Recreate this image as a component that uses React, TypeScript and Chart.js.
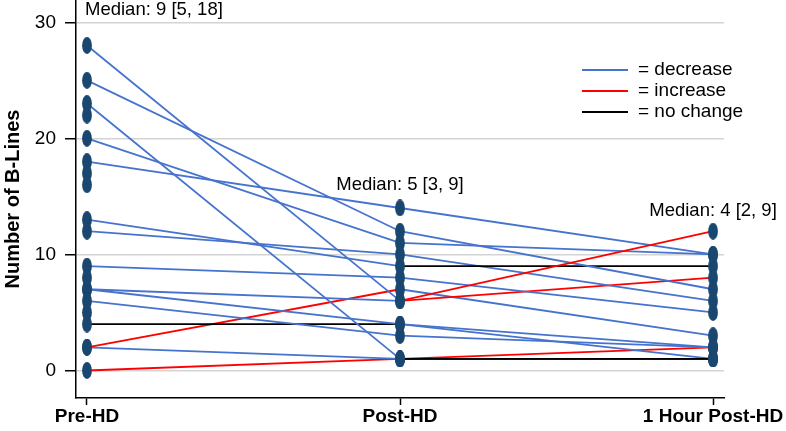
import React, { useEffect, useRef } from 'react';
import { Chart, registerables } from 'chart.js';

Chart.register(...registerables);

// ---- data ----
const categories = ['Pre-HD', 'Post-HD', '1 Hour Post-HD'];
// one entry per patient (same index across the three arrays)
const preHD = [28, 25, 23, 20, 18, 13, 12, 9, 7, 7, 6, 4, 2, 2, 0];
const postHD = [6, 12, 1, 11, 14, 9, 10, 8, 6, 4, 3, 4, 7, 1, 1];
const hourPostHD = [12, 7, 1, 10, 10, 9, 6, 5, 8, 2, 2, 1, 3, 1, 2];
// Pre-HD observations without follow-up values
const preOnly = [22, 17, 16, 8, 5];
const medianLabels = ['Median: 9 [5, 18]', 'Median: 5 [3, 9]', 'Median: 4 [2, 9]'];
const medianLabelValues = [31.1, 15.95, 13.75];
const yTicks = [0, 10, 20, 30];
const legendLabels = ['= decrease', '= increase', '= no change'];

// ---- styles ----
const FONT = "'Liberation Sans', Arial, Helvetica, sans-serif";
const BLUE = '#4673cd';
const RED = '#ff0000';
const BLACK = '#000000';
const NAVY = '#1a476f';
const legendColors = [BLUE, RED, BLACK];

const overlayPlugin = {
  id: 'overlay',
  afterDraw(chart: any) {
    const { ctx, chartArea: area, scales } = chart;
    ctx.save();
    // median labels
    ctx.font = `18.5px ${FONT}`;
    ctx.fillStyle = '#000';
    ctx.textBaseline = 'middle';
    ctx.textAlign = 'left';
    medianLabels.forEach((txt, i) => {
      const x = scales.x.getPixelForValue(i);
      const y = scales.y.getPixelForValue(medianLabelValues[i]);
      const w = ctx.measureText(txt).width;
      let left = x - w / 2;
      if (left < area.left + 9) left = area.left + 9;
      ctx.fillText(txt, left, y);
    });
    // legend
    const lx = area.right - 142;
    ctx.font = `19px ${FONT}`;
    legendLabels.forEach((txt, i) => {
      const y = area.top + 70 + i * 21;
      ctx.strokeStyle = legendColors[i];
      ctx.lineWidth = 1.8;
      ctx.beginPath();
      ctx.moveTo(lx, y);
      ctx.lineTo(lx + 46, y);
      ctx.stroke();
      ctx.fillStyle = '#000';
      ctx.fillText(txt, lx + 56, y);
    });
    ctx.restore();
  },
};

export default function App() {
  const ref = useRef<HTMLCanvasElement | null>(null);

  useEffect(() => {
    if (!ref.current) return;
    const dot = document.createElement('canvas');
    dot.width = 10;
    dot.height = 17;
    const dc = dot.getContext('2d')!;
    dc.fillStyle = NAVY;
    dc.beginPath();
    dc.ellipse(5, 8.5, 4.9, 8.4, 0, 0, Math.PI * 2);
    dc.fill();

    const columns = [preHD, postHD, hourPostHD];
    const lineSets = preHD.map((_, p) => ({
      type: 'line' as const,
      data: columns
        .map((col, i) => ({ x: i, y: col[p] }))
        .filter((pt) => pt.y !== null && pt.y !== undefined),
      showLine: true,
      borderWidth: 1.8,
      pointRadius: 0,
      fill: false,
      tension: 0,
      order: 1,
      borderColor: BLUE,
      segment: {
        borderColor: (c: any) =>
          c.p1.parsed.y > c.p0.parsed.y ? RED : c.p1.parsed.y < c.p0.parsed.y ? BLUE : BLACK,
      },
    }));

    const dots: { x: number; y: number }[] = [];
    columns.forEach((col, i) => col.forEach((v) => dots.push({ x: i, y: v })));
    preOnly.forEach((v) => dots.push({ x: 0, y: v }));

    const chart = new Chart(ref.current, {
      type: 'scatter',
      data: {
        datasets: [
          {
            type: 'scatter',
            data: dots,
            pointStyle: dot as any,
            pointRadius: 5,
            showLine: false,
            order: 0,
          } as any,
          ...(lineSets as any[]),
        ],
      },
      options: {
        animation: false,
        responsive: false,
        events: [],
        layout: { autoPadding: false, padding: { top: 0, right: 62, bottom: 0, left: 0 } },
        plugins: { legend: { display: false }, tooltip: { enabled: false } },
        scales: {
          x: {
            type: 'linear',
            min: -0.0351,
            max: 2.0351,
            afterBuildTicks: (s: any) => {
              s.ticks = categories.map((_, i) => ({ value: i }));
            },
            afterFit: (s: any) => {
              s.height = 33;
              s.paddingLeft = 0;
              s.paddingRight = 0;
            },
            ticks: {
              callback: (v: any) => categories[v as number] ?? '',
              font: { family: FONT, size: 19, weight: 'bold' },
              color: '#000',
              padding: 0,
              maxRotation: 0,
              autoSkip: false,
            },
            grid: { drawOnChartArea: false, tickLength: 7, tickColor: '#000', tickWidth: 1.5 },
            border: { color: '#000', width: 1.5 },
          },
          y: {
            type: 'linear',
            min: -2.37,
            max: 31.92,
            afterBuildTicks: (s: any) => {
              s.ticks = yTicks.map((v) => ({ value: v }));
            },
            afterFit: (s: any) => {
              s.width = 76;
              s.paddingTop = 0;
              s.paddingBottom = 0;
            },
            ticks: {
              font: { family: FONT, size: 19 },
              color: '#000',
              padding: 9,
            },
            grid: { color: '#d4d4d4', lineWidth: 1.5, tickLength: 11, tickColor: '#000', tickWidth: 1.5 },
            border: { color: '#000', width: 1.5 },
            title: {
              display: true,
              text: 'Number of B-Lines',
              font: { family: FONT, size: 20, weight: 'bold' },
              color: '#000',
              padding: { top: 1, bottom: 0 },
            },
          },
        },
      },
      plugins: [overlayPlugin],
    } as any);

    return () => chart.destroy();
  }, []);

  return (
    <div style={{ position: 'absolute', left: 0, top: 0, width: 786, height: 431, background: '#fff' }}>
      <canvas ref={ref} width={786} height={431} style={{ display: 'block' }} />
    </div>
  );
}
